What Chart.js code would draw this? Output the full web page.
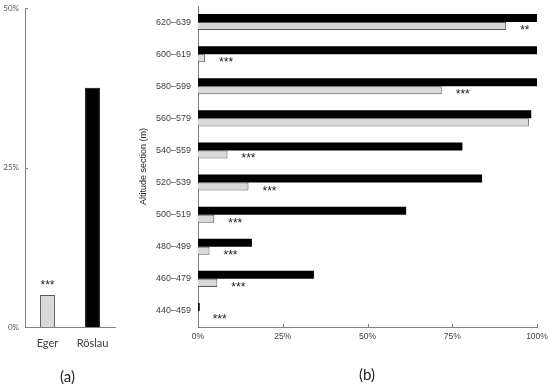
<!DOCTYPE html>
<html>
<head>
<meta charset="utf-8">
<script src="https://cdn.jsdelivr.net/npm/chart.js@4.4.0/dist/chart.umd.min.js"></script>
<style>
  body { margin: 0; background: #fff; }
  #wrap { position: relative; width: 550px; height: 388px; overflow: hidden; }
  #boxA { position: absolute; left: 0; top: 0; width: 125px; height: 388px; }
  #boxB { position: absolute; left: 130px; top: 0; width: 420px; height: 388px; }
  .panel { position: absolute; font-family: Lato, sans-serif; font-size: 15px; color: #222; }
</style>
</head>
<body>
<div id="wrap">
  <div id="boxA"><canvas id="chartA"></canvas></div>
  <div id="boxB"><canvas id="chartB"></canvas></div>
  <div class="panel" style="left:60px; top:367px;">(a)</div>
  <div class="panel" style="left:359px; top:365px;">(b)</div>
</div>
<script>
// (a) share per river
const rivers = ["Eger", "Röslau"];
const overall = [5.0, 37.5];
const overallStars = ["***", ""];
const overallTicks = [0, 25, 50];

// (b) share per altitude section
const sections = ["620–639", "600–619", "580–599", "560–579", "540–559",
                  "520–539", "500–519", "480–499", "460–479", "440–459"];
const roslau = [100, 100, 100, 98.3, 78.0, 83.8, 61.4, 15.9, 34.2, 0.5];
const eger = [90.9, 2.1, 71.9, 97.6, 8.7, 14.9, 4.8, 3.4, 5.7, 0.2];
const sectionStars = ["**", "***", "***", "", "***", "***", "***", "***", "***", "***"];
const sectionTicks = [0, 25, 50, 75, 100];

const axisGrey = "#808080";

// small tick marks pointing into the plot
const innerTicks = {
  id: "innerTicks",
  afterDraw(chart, args, opts) {
    const ctx = chart.ctx;
    const sc = chart.scales[opts.axis];
    const a = chart.chartArea;
    ctx.save();
    ctx.strokeStyle = axisGrey;
    ctx.lineWidth = 1;
    opts.values.forEach((v) => {
      if (v === 0) return;
      const p = Math.round(sc.getPixelForValue(v)) + 0.5;
      ctx.beginPath();
      if (opts.axis === "x") {
        ctx.moveTo(p, a.bottom);
        ctx.lineTo(p, a.bottom - 3);
      } else {
        ctx.moveTo(a.left, p);
        ctx.lineTo(a.left + 3, p);
      }
      ctx.stroke();
    });
    ctx.restore();
  }
};

// significance stars
const starLabels = {
  id: "starLabels",
  afterDatasetsDraw(chart, args, opts) {
    const ctx = chart.ctx;
    const meta = chart.getDatasetMeta(opts.dataset);
    ctx.save();
    ctx.fillStyle = "#222";
    ctx.font = "12px 'Liberation Sans', Arial, sans-serif";
    ctx.textBaseline = "alphabetic";
    meta.data.forEach((el, i) => {
      const s = opts.labels[i];
      if (!s) return;
      if (opts.horizontal) {
        ctx.textAlign = "left";
        ctx.fillText(s, el.x + 14, el.y + 8);
      } else {
        ctx.textAlign = "center";
        ctx.fillText(s, el.x, el.y - 6);
      }
    });
    ctx.restore();
  }
};

new Chart(document.getElementById("chartA"), {
  type: "bar",
  data: {
    labels: rivers,
    datasets: [{
      data: overall,
      backgroundColor: ["#d9d9d9", "#000000"],
      borderColor: ["#595959", "#000000"],
      borderWidth: 1,
      categoryPercentage: 0.66,
      barPercentage: 0.5
    }]
  },
  options: {
    responsive: true,
    maintainAspectRatio: false,
    animation: false,
    layout: { padding: { top: 8, right: 10, left: 0, bottom: 0 } },
    plugins: {
      legend: { display: false },
      tooltip: { enabled: false },
      innerTicks: { axis: "y", values: overallTicks },
      starLabels: { dataset: 0, labels: overallStars, horizontal: false }
    },
    scales: {
      x: {
        grid: { display: false, drawTicks: false },
        border: { color: axisGrey, width: 1 },
        ticks: {
          color: "#404040",
          padding: 10,
          font: { family: "Lato", size: 11 }
        },
        afterFit: (s) => { s.height = 61; s.paddingLeft = 0; s.paddingRight = 0; }
      },
      y: {
        min: 0,
        max: 50,
        afterBuildTicks: (s) => { s.ticks = overallTicks.map((v) => ({ value: v })); },
        grid: { display: false, drawTicks: false },
        border: { color: axisGrey, width: 1 },
        ticks: {
          color: "#595959",
          padding: 6,
          font: { family: "Lato", size: 8 },
          callback: (v) => v + "%"
        },
        afterFit: (s) => { s.width = 25; s.paddingTop = 0; s.paddingBottom = 0; }
      }
    }
  },
  plugins: [innerTicks, starLabels]
});

new Chart(document.getElementById("chartB"), {
  type: "bar",
  data: {
    labels: sections,
    datasets: [
      {
        label: "Röslau",
        data: roslau,
        backgroundColor: "#000000",
        borderColor: "#000000",
        borderWidth: 0,
        categoryPercentage: 0.5,
        barPercentage: 1.0
      },
      {
        label: "Eger",
        data: eger,
        backgroundColor: "#d9d9d9",
        borderColor: "#595959",
        borderWidth: 1,
        categoryPercentage: 0.5,
        barPercentage: 1.0
      }
    ]
  },
  options: {
    indexAxis: "y",
    responsive: true,
    maintainAspectRatio: false,
    animation: false,
    layout: { padding: { top: 6, right: 13, left: 0, bottom: 0 } },
    plugins: {
      legend: { display: false },
      tooltip: { enabled: false },
      innerTicks: { axis: "x", values: sectionTicks },
      starLabels: { dataset: 1, labels: sectionStars, horizontal: true }
    },
    scales: {
      x: {
        min: 0,
        max: 100,
        afterBuildTicks: (s) => { s.ticks = sectionTicks.map((v) => ({ value: v })); },
        grid: { display: false, drawTicks: false },
        border: { color: axisGrey, width: 1 },
        ticks: {
          color: "#404040",
          padding: 5,
          font: { family: "Liberation Sans", size: 8.5 },
          callback: (v) => v + "%"
        },
        afterFit: (s) => { s.height = 61; s.paddingLeft = 0; s.paddingRight = 0; }
      },
      y: {
        grid: { display: false, drawTicks: false },
        border: { color: axisGrey, width: 1 },
        title: {
          display: true,
          text: "Altitude section (m)",
          color: "#222",
          padding: { top: 8, bottom: 0 },
          font: { family: "Liberation Sans", size: 9 }
        },
        ticks: {
          color: "#404040",
          padding: 7,
          font: { family: "Liberation Sans", size: 9 }
        },
        afterFit: (s) => { s.width = 68; s.paddingTop = 0; s.paddingBottom = 0; }
      }
    }
  },
  plugins: [innerTicks, starLabels]
});
</script>
</body>
</html>
